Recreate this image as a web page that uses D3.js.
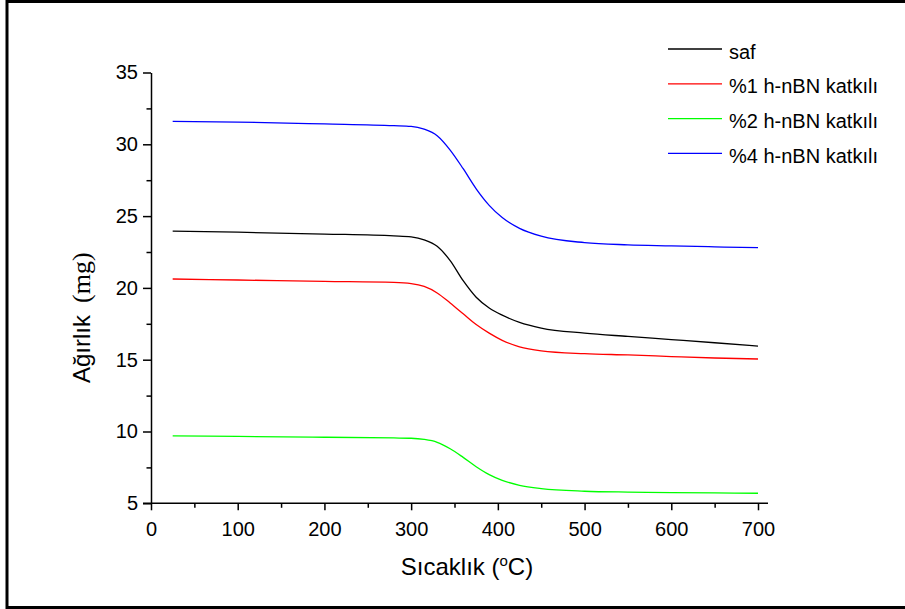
<!DOCTYPE html>
<html>
<head>
<meta charset="utf-8">
<script src="https://cdn.jsdelivr.net/npm/d3@7"></script>
<style>
  html, body { margin: 0; padding: 0; background: #fff; }
  svg { display: block; }
  text { font-family: "Liberation Sans", Arial, sans-serif; fill: #000; }
</style>
</head>
<body>
<svg id="chart" width="905" height="609"></svg>
<script>
// Temperature grid (°C) shared by all TGA curves
const temps = [25, 100, 200, 280, 300, 315, 330, 345, 360, 375, 390, 405, 425, 450, 500, 550, 600, 650, 700];

// Sample mass (mg) per composition
const saf  = [23.95, 23.88, 23.75, 23.62, 23.55, 23.35, 22.9, 21.9, 20.5, 19.35, 18.6, 18.1, 17.6, 17.2, 16.85, 16.62, 16.4, 16.18, 15.95];
const bn1  = [20.62, 20.55, 20.45, 20.38, 20.3, 20.1, 19.65, 18.95, 18.2, 17.45, 16.85, 16.35, 15.9, 15.62, 15.42, 15.33, 15.22, 15.12, 15.05];
const bn2  = [9.7, 9.66, 9.6, 9.55, 9.53, 9.45, 9.25, 8.8, 8.2, 7.55, 7.0, 6.6, 6.25, 6.02, 5.84, 5.78, 5.75, 5.72, 5.7];
const bn4  = [31.6, 31.55, 31.42, 31.3, 31.25, 31.05, 30.6, 29.6, 28.3, 26.9, 25.75, 24.9, 24.15, 23.6, 23.15, 23.0, 22.93, 22.86, 22.8];

const seriesNames  = ["saf", "%1 h-nBN katkılı", "%2 h-nBN katkılı", "%4 h-nBN katkılı"];
const seriesValues = [saf, bn1, bn2, bn4];
const seriesColors = ["#000000", "#ff0000", "#00ff00", "#0000ff"];

const xTicks = [0, 100, 200, 300, 400, 500, 600, 700];
const yTicks = [5, 10, 15, 20, 25, 30, 35];

const svg = d3.select("#chart");

const x = d3.scaleLinear().domain([0, 700]).range([151, 758]);
const y = d3.scaleLinear().domain([5, 35]).range([503.3, 72.5]);

// outer frame (left, top, bottom edges)
svg.append("path")
  .attr("d", "M7,609 V1.5 H905 M7,607.5 H905")
  .attr("fill", "none").attr("stroke", "#000").attr("stroke-width", 3);

// curves
const line = d3.line()
  .x(d => x(d[0]))
  .y(d => y(d[1]))
  .curve(d3.curveMonotoneX);

seriesValues.forEach((vals, i) => {
  svg.append("path")
    .datum(temps.map((t, j) => [t, vals[j]]))
    .attr("d", line)
    .attr("fill", "none")
    .attr("stroke", seriesColors[i])
    .attr("stroke-width", 1.3);
});

// y axis: major + minor ticks
const yMinor = d3.range(7.5, 35, 5);
svg.append("g")
  .attr("transform", `translate(${x(0)},0)`)
  .call(d3.axisLeft(y).tickValues(yMinor).tickSize(4.5).tickFormat(""))
  .call(g => g.select(".domain").remove())
  .call(g => g.selectAll("line").attr("stroke-width", 1.5));

svg.append("g")
  .attr("transform", `translate(${x(0)},0)`)
  .call(d3.axisLeft(y).tickValues(yTicks).tickSize(8).tickSizeOuter(0).tickPadding(5))
  .call(g => g.select(".domain").attr("stroke-width", 1.5))
  .call(g => g.selectAll("line").attr("stroke-width", 1.5))
  .call(g => g.selectAll("text").attr("font-size", 20)
      .attr("font-family", "Liberation Sans, Arial, sans-serif").attr("fill", "#000"));

// x axis: major + minor ticks
const xMinor = d3.range(50, 700, 100);
svg.append("g")
  .attr("transform", `translate(0,${y(5)})`)
  .call(d3.axisBottom(x).tickValues(xMinor).tickSize(4.5).tickFormat(""))
  .call(g => g.select(".domain").remove())
  .call(g => g.selectAll("line").attr("stroke-width", 1.5));

svg.append("g")
  .attr("transform", `translate(0,${y(5)})`)
  .call(d3.axisBottom(x).tickValues(xTicks).tickSize(7).tickSizeOuter(0).tickPadding(11.4))
  .call(g => g.select(".domain").remove())
  .call(g => g.selectAll("line").attr("stroke-width", 1.5))
  .call(g => g.selectAll("text").attr("font-size", 20)
      .attr("font-family", "Liberation Sans, Arial, sans-serif").attr("fill", "#000"));

svg.append("line")
  .attr("x1", 143).attr("x2", 768)
  .attr("y1", y(5)).attr("y2", y(5))
  .attr("stroke", "#000").attr("stroke-width", 1.5);

// axis titles
const xt = svg.append("text")
  .attr("x", 467).attr("y", 575)
  .attr("text-anchor", "middle")
  .attr("font-size", 24);
xt.append("tspan").text("Sıcaklık (");
xt.append("tspan").attr("font-size", 15).attr("dy", -9).text("o");
xt.append("tspan").attr("dy", 9).text("C)");

const yt = svg.append("text")
  .attr("transform", "translate(90,383) rotate(-90)")
  .attr("text-anchor", "start")
  .attr("font-size", 24);
yt.append("tspan").text("Ağırlık");
yt.append("tspan").attr("dx", 12)
  .attr("font-family", "Liberation Serif, Times New Roman, serif")
  .attr("font-size", 26).text("(mg)");

// legend
const legend = svg.append("g");
seriesNames.forEach((name, i) => {
  const ly = 49 + i * 34.8;
  legend.append("line")
    .attr("x1", 668).attr("x2", 722)
    .attr("y1", ly).attr("y2", ly)
    .attr("stroke", seriesColors[i]).attr("stroke-width", 1.3);
  legend.append("text")
    .attr("x", 729).attr("y", ly + 9.5)
    .attr("font-size", 20)
    .text(name);
});
</script>
</body>
</html>
